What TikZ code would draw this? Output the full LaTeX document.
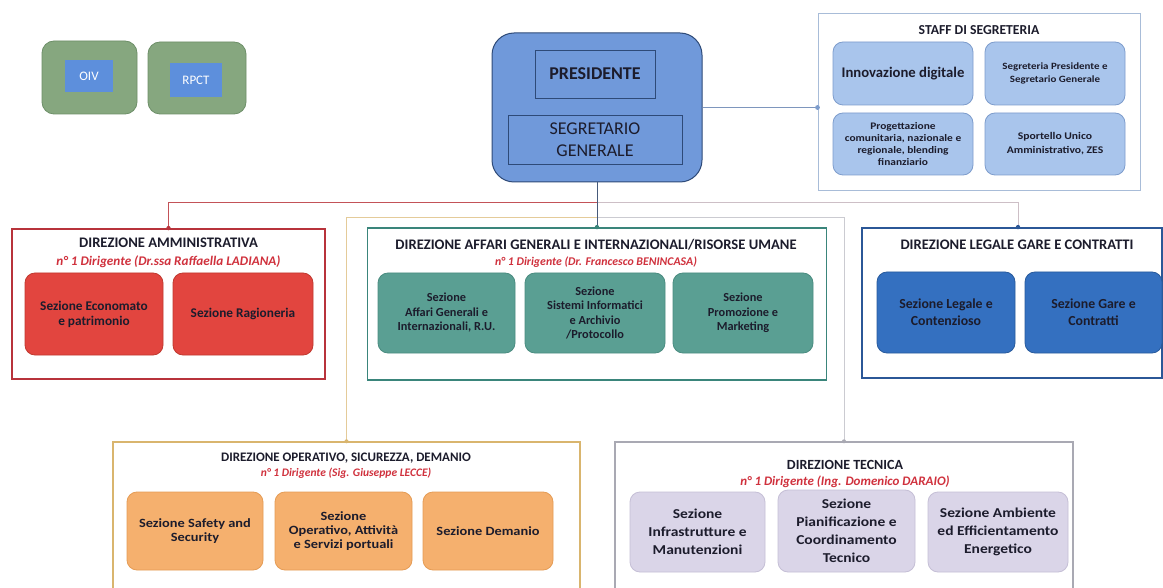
\documentclass[tikz,border=0pt]{standalone}
\usepackage{fontspec}
\setmainfont{Carlito}
\newfontfamily\widefont{Carlito}[FakeStretch=1.14]
\usetikzlibrary{calc}
\definecolor{txt}{HTML}{1C1C2C}
\definecolor{grnfill}{HTML}{86A77F}
\definecolor{grnline}{HTML}{6D8F68}
\definecolor{oivblue}{HTML}{5D8FDC}
\definecolor{presfill}{HTML}{7099DA}
\definecolor{presline}{HTML}{2E4A78}
\definecolor{stfill}{HTML}{A9C5EC}
\definecolor{stline}{HTML}{7D9CCC}
\definecolor{stborder}{HTML}{A8BCD8}
\definecolor{rdline}{HTML}{B8333B}
\definecolor{rdfill}{HTML}{E2453F}
\definecolor{rdsec}{HTML}{C0392F}
\definecolor{tlline}{HTML}{3A857B}
\definecolor{tlfill}{HTML}{5A9F93}
\definecolor{tlsec}{HTML}{4A8C80}
\definecolor{blline}{HTML}{2B5797}
\definecolor{blfill}{HTML}{3470C0}
\definecolor{blsec}{HTML}{285A9C}
\definecolor{orline}{HTML}{D9B56E}
\definecolor{orfill}{HTML}{F5B06E}
\definecolor{orsec}{HTML}{E59C55}
\definecolor{tcline}{HTML}{A9A9B3}
\definecolor{tcfill}{HTML}{DAD5E8}
\definecolor{tcsec}{HTML}{C5BFD6}
\definecolor{subred}{HTML}{D0313D}
\definecolor{rgconn}{HTML}{CDBFC6}
\newcommand{\fsz}[2]{\fontsize{#1}{#2}\selectfont}
\tikzset{
  sec/.style={rectangle, rounded corners=10pt, line width=0.8pt, align=center, text=txt, inner sep=2pt},
  dirbox/.style={rectangle, line width=1.8pt, fill=white, inner sep=0pt},
  dirtitle/.style={text=txt, font=\bfseries\fsz{14.6}{16}, inner sep=0pt},
  dirsub/.style={text=subred, font=\bfseries\itshape\fsz{12.5}{14}, inner sep=0pt},
  conn/.style={line width=1pt},
}
\begin{document}
\begin{tikzpicture}[x=1pt,y=-1pt]
\useasboundingbox (0,0) rectangle (1163,588);
\clip (0,0) rectangle (1163,588);
\fill[white] (0,0) rectangle (1163,588);

% OIV / RPCT
\node[rectangle, rounded corners=12pt, fill=grnfill, draw=grnline, line width=0.8pt, minimum width=95, minimum height=73] (oivb) at (89.5,77.5) {};
\node[rectangle, fill=oivblue, minimum width=48, minimum height=32, text=white, font=\fsz{13}{15}] (oiv) at (89,76) {OIV};
\node[rectangle, rounded corners=12pt, fill=grnfill, draw=grnline, line width=0.8pt, minimum width=98, minimum height=72] (rpctb) at (197,78) {};
\node[rectangle, fill=oivblue, minimum width=52, minimum height=34, text=white, font=\fsz{13}{15}] (rpct) at (196,80) {RPCT};

% Presidente
\node[rectangle, rounded corners=22pt, fill=presfill, draw=presline, line width=1pt, minimum width=210, minimum height=149] (pres) at (597,107.5) {};
\node[rectangle, draw=presline, line width=0.9pt, minimum width=120, minimum height=48, text=txt, font=\bfseries\fsz{18}{20}] (presi) at (595,74) {PRESIDENTE};
\node[rectangle, draw=presline, line width=0.9pt, minimum width=174, minimum height=49, text=txt, align=center, font=\fsz{18}{22}] (segr) at (595,139.5) {SEGRETARIO\\GENERALE};

% Staff
\node[rectangle, draw=stborder, line width=1pt, fill=white, minimum width=322, minimum height=177] (staff) at (979,102.5) {};
\node[text=txt, font=\bfseries\fsz{13.7}{15}, inner sep=0pt] (stafft) at (979,30) {STAFF DI SEGRETERIA};
\node[sec, fill=stfill, draw=stline, minimum width=140, minimum height=63, font=\bfseries\fsz{14.7}{16}] (innov) at (903,73.5) {Innovazione digitale};
\node[sec, fill=stfill, draw=stline, minimum width=140, minimum height=63, font=\widefont\bfseries\fsz{9.6}{12.5}] (segp) at (1055,73.5) {Segreteria Presidente e\\Segretario Generale};
\node[sec, fill=stfill, draw=stline, minimum width=140, minimum height=62, font=\widefont\bfseries\fsz{10}{11.7}] (prog) at (903,144) {Progettazione\\comunitaria, nazionale e\\regionale, blending\\finanziario};
\node[sec, fill=stfill, draw=stline, minimum width=140, minimum height=62, font=\widefont\bfseries\fsz{10.2}{14}] (sport) at (1055,144) {Sportello Unico\\Amministrativo, ZES};

% Direzione Amministrativa
\node[dirbox, draw=rdline, minimum width=313, minimum height=150] (amm) at (168.5,304) {};
\node[dirtitle] (ammt) at (168.5,243) {DIREZIONE AMMINISTRATIVA};
\node[dirsub, font=\bfseries\itshape\fsz{13.2}{15}] (amms) at (168.5,262) {n° 1 Dirigente (Dr.ssa Raffaella LADIANA)};
\node[sec, fill=rdfill, draw=rdsec, minimum width=138, minimum height=82, font=\bfseries\fsz{13.3}{15}] (econ) at (94,314) {Sezione Economato\\e patrimonio};
\node[sec, fill=rdfill, draw=rdsec, minimum width=140, minimum height=82, font=\bfseries\fsz{13.3}{15}] (rag) at (243,314) {Sezione Ragioneria};

% Direzione Affari Generali
\node[dirbox, draw=tlline, minimum width=459, minimum height=152] (aff) at (597,304) {};
\node[dirtitle] (afft) at (596,245) {DIREZIONE AFFARI GENERALI E INTERNAZIONALI/RISORSE UMANE};
\node[dirsub, font=\bfseries\itshape\fsz{11.8}{14}] (affs) at (596,262) {n° 1 Dirigente (Dr. Francesco BENINCASA)};
\node[sec, fill=tlfill, draw=tlsec, minimum width=137, minimum height=80, font=\bfseries\fsz{12.3}{14.5}] (affg) at (446.5,313) {Sezione\\Affari Generali e\\Internazionali, R.U.};
\node[sec, fill=tlfill, draw=tlsec, minimum width=140, minimum height=80, font=\bfseries\fsz{12.3}{14.5}] (sist) at (595,313) {Sezione\\Sistemi Informatici\\e Archivio\\/Protocollo};
\node[sec, fill=tlfill, draw=tlsec, minimum width=140, minimum height=80, font=\bfseries\fsz{12.3}{14.5}] (prom) at (743,313) {Sezione\\Promozione e\\Marketing};

% Direzione Legale
\node[dirbox, draw=blline, minimum width=300, minimum height=150] (leg) at (1012,303) {};
\node[dirtitle] (legt) at (1017,245) {DIREZIONE LEGALE GARE E CONTRATTI};
\node[sec, fill=blfill, draw=blsec, minimum width=138, minimum height=81, font=\bfseries\fsz{13.8}{17}] (lcont) at (946,312.5) {Sezione Legale e\\Contenzioso};
\node[sec, fill=blfill, draw=blsec, minimum width=137, minimum height=81, font=\bfseries\fsz{13.8}{17}] (gare) at (1093.5,312.5) {Sezione Gare e\\Contratti};

% Direzione Operativo
\node[dirbox, draw=orline, line width=1.4pt, minimum width=467, minimum height=158] (op) at (346.5,521) {};
\node[dirtitle, font=\bfseries\fsz{13}{15}] (opt) at (346,458) {DIREZIONE OPERATIVO, SICUREZZA, DEMANIO};
\node[dirsub, font=\bfseries\itshape\fsz{11.5}{13}] (ops) at (346,473) {n° 1 Dirigente (Sig. Giuseppe LECCE)};
\node[sec, fill=orfill, draw=orsec, minimum width=136, minimum height=78, font=\widefont\bfseries\fsz{12.6}{14}] (safe) at (195,531) {Sezione Safety and\\Security};
\node[sec, fill=orfill, draw=orsec, minimum width=137, minimum height=78, font=\widefont\bfseries\fsz{12.6}{13.6}] (oper) at (343.5,531) {Sezione\\Operativo, Attività\\e Servizi portuali};
\node[sec, fill=orfill, draw=orsec, minimum width=130, minimum height=78, font=\widefont\bfseries\fsz{12.6}{14}] (dem) at (488,531) {Sezione Demanio};

% Direzione Tecnica
\node[dirbox, draw=tcline, line width=1.4pt, minimum width=458, minimum height=158] (tec) at (844,521) {};
\node[dirtitle, font=\bfseries\fsz{14}{15}] (tect) at (845,465) {DIREZIONE TECNICA};
\node[dirsub, font=\bfseries\itshape\fsz{13}{15}] (tecs) at (845,482) {n° 1 Dirigente (Ing. Domenico DARAIO)};
\node[sec, fill=tcfill, draw=tcsec, minimum width=135, minimum height=80, font=\widefont\bfseries\fsz{13.6}{18}] (infr) at (697.5,532) {Sezione\\Infrastrutture e\\Manutenzioni};
\node[sec, fill=tcfill, draw=tcsec, minimum width=137, minimum height=82, font=\widefont\bfseries\fsz{13.6}{18}] (pian) at (846.5,531) {Sezione\\Pianificazione e\\Coordinamento\\Tecnico};
\node[sec, fill=tcfill, draw=tcsec, minimum width=140, minimum height=80, font=\widefont\bfseries\fsz{13.6}{18}] (amb) at (998,532) {Sezione Ambiente\\ed Efficientamento\\Energetico};

% Connectors
\coordinate (j1) at (597,203);
\coordinate (j2) at (597,218);
\draw[conn, draw=rdline!85] (j1) -| (amm.north);
\draw[conn, draw=rgconn] (j1) -| ([xshift=6pt]leg.north);
\draw[conn, draw=orline!70] (j2) -| (op.north);
\draw[conn, draw=tcline!60] (j2) -| (tec.north);
\draw[conn, draw=presline!70!gray] (pres.south) -- (aff.north);
\draw[conn, draw=stline!80!gray] (pres.east) -- (pres.east -| staff.west);

% dots
\fill[rdline] (amm.north) circle (2.2);
\fill[tlline] (aff.north) circle (2.2);
\fill[blline] ([xshift=6pt]leg.north) circle (2.2);
\fill[stline] (pres.east -| staff.west) circle (2.4);
\fill[orline] (op.north) circle (2);
\fill[tcline] (tec.north) circle (2);
\end{tikzpicture}
\end{document}
